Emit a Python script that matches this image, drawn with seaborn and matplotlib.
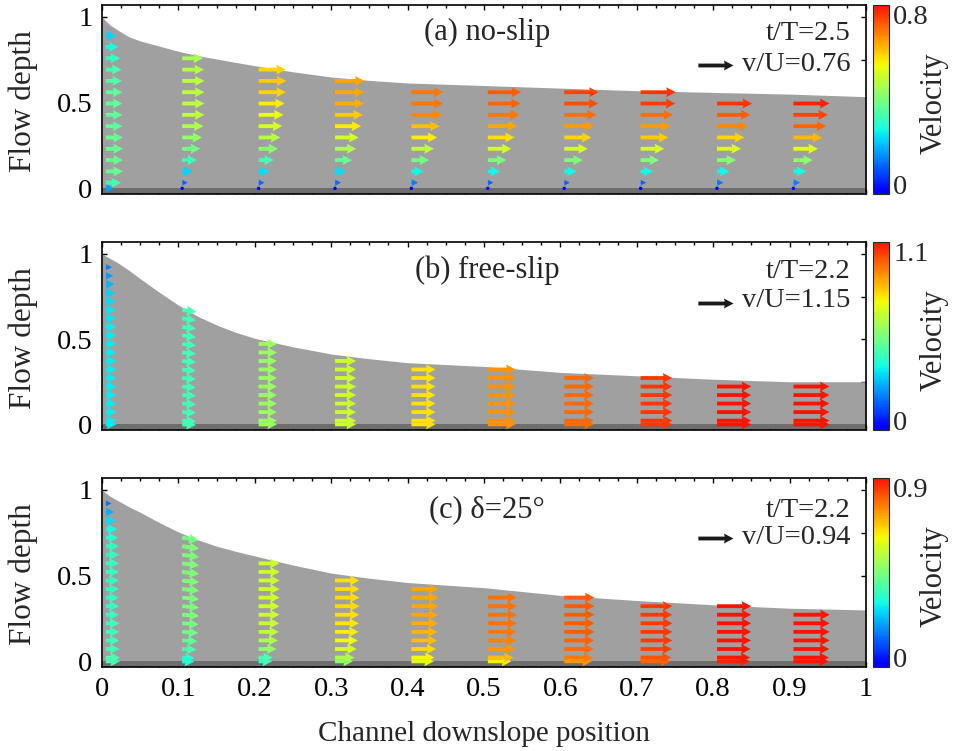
import numpy as np
import matplotlib
matplotlib.use("Agg")
import matplotlib.pyplot as plt
import seaborn as sns
from matplotlib.colors import Normalize
from matplotlib.ticker import MultipleLocator, FixedLocator, FuncFormatter

# ---------------- data ----------------
surface_x = [0.0, 0.01, 0.02, 0.035, 0.05, 0.075, 0.1, 0.125, 0.15, 0.175, 0.2, 0.25,
             0.3, 0.35, 0.4, 0.5, 0.6, 0.7, 0.8, 0.9, 1.0]
depth_a = [1.0, 0.955, 0.925, 0.885, 0.86, 0.83, 0.80, 0.775, 0.755, 0.735, 0.716, 0.68,
           0.65, 0.63, 0.615, 0.60, 0.585, 0.57, 0.56, 0.55, 0.535]
depth_b = [1.0, 0.975, 0.95, 0.905, 0.855, 0.775, 0.70, 0.635, 0.583, 0.54, 0.505, 0.455,
           0.413, 0.385, 0.362, 0.34, 0.305, 0.285, 0.265, 0.25, 0.25]
depth_c = [1.0, 0.965, 0.94, 0.903, 0.87, 0.81, 0.755, 0.71, 0.672, 0.642, 0.615, 0.562,
           0.515, 0.485, 0.46, 0.43, 0.385, 0.355, 0.33, 0.31, 0.30]

column_x = [0.005, 0.105, 0.205, 0.305, 0.405, 0.505, 0.605, 0.705, 0.805, 0.905]

rows_a = [0.0, 0.033, 0.099, 0.165, 0.231, 0.297, 0.363, 0.429, 0.495,
          0.561, 0.627, 0.693, 0.759, 0.825, 0.891]
rows_bc = [0.0, 0.022, 0.072, 0.122, 0.172, 0.222, 0.272, 0.322, 0.372, 0.422,
           0.472, 0.522, 0.572, 0.622, 0.672, 0.722, 0.772, 0.822, 0.872, 0.922]

# horizontal velocity of each column, listed from the bed upward
u_a = [
    [0.18, 0.33, 0.37, 0.37, 0.37, 0.37, 0.36, 0.36, 0.36, 0.36, 0.35, 0.34, 0.31, 0.275, 0.23],
    [0.0, 0.12, 0.23, 0.32, 0.39, 0.43, 0.46, 0.48, 0.48, 0.48, 0.48, 0.47, 0.45],
    [0.0, 0.13, 0.24, 0.33, 0.42, 0.47, 0.51, 0.54, 0.565, 0.59, 0.60, 0.59],
    [0.0, 0.13, 0.24, 0.37, 0.46, 0.51, 0.565, 0.60, 0.63, 0.64, 0.64],
    [0.0, 0.145, 0.27, 0.385, 0.485, 0.56, 0.61, 0.67, 0.69, 0.69],
    [0.0, 0.12, 0.27, 0.40, 0.51, 0.58, 0.64, 0.69, 0.71, 0.72],
    [0.0, 0.12, 0.27, 0.40, 0.51, 0.59, 0.65, 0.70, 0.735, 0.745],
    [0.0, 0.12, 0.27, 0.40, 0.51, 0.60, 0.65, 0.70, 0.75, 0.76],
    [0.0, 0.14, 0.27, 0.41, 0.52, 0.59, 0.67, 0.72, 0.76],
    [0.0, 0.145, 0.275, 0.42, 0.53, 0.62, 0.71, 0.745, 0.78],
]
u_b = [
    [0.35, 0.35, 0.35, 0.35, 0.35, 0.35, 0.35, 0.35, 0.35, 0.35, 0.35, 0.35, 0.35, 0.34,
     0.34, 0.33, 0.31, 0.28, 0.24, 0.20],
    [0.45, 0.45, 0.45, 0.45, 0.45, 0.45, 0.45, 0.45, 0.45, 0.45, 0.45, 0.45, 0.45, 0.45, 0.46],
    [0.60, 0.60, 0.60, 0.60, 0.60, 0.60, 0.60, 0.60, 0.60, 0.60, 0.60],
    [0.69, 0.69, 0.69, 0.69, 0.69, 0.69, 0.69, 0.69, 0.69],
    [0.79, 0.79, 0.79, 0.79, 0.79, 0.79, 0.79, 0.79],
    [0.91, 0.91, 0.91, 0.91, 0.91, 0.91, 0.91, 0.91],
    [0.97, 0.97, 0.97, 0.97, 0.97, 0.97, 0.97],
    [1.04, 1.04, 1.04, 1.04, 1.04, 1.04, 1.04],
    [1.12, 1.12, 1.12, 1.12, 1.12, 1.12],
    [1.18, 1.18, 1.18, 1.18, 1.18, 1.18],
]
u_c = [
    [0.38, 0.38, 0.37, 0.36, 0.36, 0.36, 0.35, 0.35, 0.35, 0.35, 0.35, 0.35, 0.35, 0.35,
     0.35, 0.33, 0.31, 0.27, 0.22, 0.15],
    [0.32, 0.33, 0.38, 0.41, 0.43, 0.44, 0.45, 0.45, 0.45, 0.45, 0.45, 0.45, 0.45, 0.45, 0.45, 0.44],
    [0.36, 0.38, 0.48, 0.52, 0.54, 0.55, 0.56, 0.56, 0.565, 0.565, 0.565, 0.565, 0.56],
    [0.48, 0.52, 0.58, 0.61, 0.63, 0.64, 0.65, 0.655, 0.655, 0.655, 0.65],
    [0.60, 0.62, 0.66, 0.69, 0.70, 0.71, 0.72, 0.72, 0.72, 0.72],
    [0.63, 0.69, 0.74, 0.76, 0.77, 0.78, 0.78, 0.78, 0.78],
    [0.74, 0.77, 0.79, 0.80, 0.81, 0.81, 0.81, 0.81, 0.81],
    [0.80, 0.82, 0.84, 0.85, 0.85, 0.85, 0.85, 0.85],
    [0.88, 0.89, 0.90, 0.91, 0.915, 0.915, 0.915, 0.915],
    [0.94, 0.95, 0.96, 0.97, 0.97, 0.97, 0.97],
]
# small downward (vertical) components seen in the second column of (b) and (c)
v_b_col1 = [-0.02, -0.02, -0.025, -0.03, -0.03, -0.035, -0.04, -0.045, -0.045, -0.05,
            -0.055, -0.06, -0.06, -0.065, -0.07]
v_c_col1 = [-0.01, -0.015, -0.02, -0.025, -0.03, -0.03, -0.035, -0.04, -0.045, -0.045,
            -0.05, -0.055, -0.06, -0.06, -0.065, -0.07]

panel_labels = ["(a) no-slip", "(b) free-slip", "(c) \u03b4=25\u00b0"]
time_labels = ["t/T=2.5", "t/T=2.2", "t/T=2.2"]
key_values = [0.76, 1.15, 0.94]
color_max = [0.8, 1.1, 0.9]
color_max_labels = ["0.8", "1.1", "0.9"]
x_ticks = [0.0, 0.1, 0.2, 0.3, 0.4, 0.5, 0.6, 0.7, 0.8, 0.9, 1.0]
y_ticks = [0.0, 0.5, 1.0]

# ---------------- style ----------------
sns.set_theme(style="ticks")
plt.rcParams["font.family"] = ["Liberation Serif", "DejaVu Serif"]
plt.rcParams["font.size"] = 20
plt.rcParams["axes.linewidth"] = 1.2

jet = matplotlib.colormaps["jet"]
cmap = sns.blend_palette([jet(t) for t in np.linspace(0.11, 0.89, 64)], n_colors=256, as_cmap=True)

W, H = 954, 751
fig = plt.figure(figsize=(W / 100, H / 100), dpi=100)

ax_px = [(5, 194), (242, 430), (478, 667)]
left_px, right_px = 102, 866
cb_left, cb_w = 873, 16
arrow_frac = 0.046  # key arrow length as a fraction of the axes width

depths = [depth_a, depth_b, depth_c]
ucols = [u_a, u_b, u_c]
rows_list = [rows_a, rows_bc, rows_bc]
vextra = [{}, {1: v_b_col1}, {1: v_c_col1}]
label_base = [0.815, 0.807, 0.795]
key_text_base = [0.652, 0.653, 0.651]
key_arrow_y = [0.683, 0.677, 0.681]

for i in range(3):
    top, bot = ax_px[i]
    ax = fig.add_axes([left_px / W, 1 - bot / H, (right_px - left_px) / W, (bot - top) / H])
    ax.set_facecolor("white")
    ax.set_xlim(0, 1)
    ax.set_ylim(-0.033, 1.07)

    ax.fill_between(surface_x, 0, depths[i], color="#a0a0a0", lw=0, zorder=1)
    ax.axhspan(-0.05, 0, color="#6e6e6e", lw=0, zorder=1)

    X, Y, U, V = [], [], [], []
    for j, (cx, col) in enumerate(zip(column_x, ucols[i])):
        vcol = vextra[i].get(j)
        for k, uu in enumerate(col):
            X.append(cx)
            Y.append(rows_list[i][k])
            U.append(uu)
            V.append(vcol[k] if vcol is not None else 0.0)
    X, Y, U, V = map(np.asarray, (X, Y, U, V))
    norm = Normalize(vmin=0, vmax=color_max[i])
    q = ax.quiver(X, Y, U, V, U, cmap=cmap, norm=norm,
                  scale=key_values[i] / arrow_frac, scale_units="width",
                  width=0.005, headwidth=2.6, headlength=2.5, headaxislength=2.3,
                  zorder=3)
    ax.quiverkey(q, 0.826, key_arrow_y[i], key_values[i], "", labelpos="E",
                 coordinates="axes", color="k")
    ax.text(0.98, key_text_base[i], f"v/U={key_values[i]:.2f}", transform=ax.transAxes,
            ha="right", va="baseline", fontsize=20.5)
    ax.text(0.98, label_base[i], time_labels[i], transform=ax.transAxes,
            ha="right", va="baseline", fontsize=20.5)
    ax.text(0.504, label_base[i], panel_labels[i], transform=ax.transAxes,
            ha="center", va="baseline", fontsize=22)

    ax.xaxis.set_major_locator(FixedLocator(x_ticks))
    ax.xaxis.set_minor_locator(MultipleLocator(0.025))
    ax.yaxis.set_major_locator(FixedLocator(y_ticks))
    ax.yaxis.set_minor_locator(FixedLocator([0.25, 0.75]))
    ax.xaxis.set_major_formatter(FuncFormatter(lambda v, p: f"{v:g}"))
    ax.yaxis.set_major_formatter(FuncFormatter(lambda v, p: f"{v:g}"))
    ax.tick_params(which="both", direction="in", top=True, right=True,
                   width=1, colors="black", labelsize=20.5, pad=7)
    ax.tick_params(which="major", length=3.6)
    ax.tick_params(axis="x", which="minor", length=2.0)
    ax.tick_params(axis="y", which="minor", length=3.6)
    for s in ax.spines.values():
        s.set_color("black")
        s.set_linewidth(1.2)
    if i < 2:
        ax.tick_params(axis="x", labelbottom=False)
    else:
        ax.set_xlabel("Channel downslope position", fontsize=21, labelpad=14)
    ax.set_ylabel("Flow depth", fontsize=22.5, va="center")
    ax.yaxis.set_label_coords(-0.103, 0.49)

    cax = fig.add_axes([cb_left / W, 1 - bot / H, cb_w / W, (bot - top) / H])
    cb = fig.colorbar(q, cax=cax)
    cb.set_ticks([0, color_max[i]])
    cb.set_ticklabels(["0", color_max_labels[i]])
    cb.ax.tick_params(length=0, pad=3, labelsize=20.5)
    cb.outline.set_linewidth(0.8)
    tl = cb.ax.get_yticklabels()
    tl[0].set_va("baseline")
    tl[1].set_va("top")
    cb.set_label("Velocity", fontsize=22, va="center", rotation=90)
    cb.ax.yaxis.set_label_coords((934 - cb_left) / cb_w, 0.48)

fig.savefig("out.png", dpi=100)
